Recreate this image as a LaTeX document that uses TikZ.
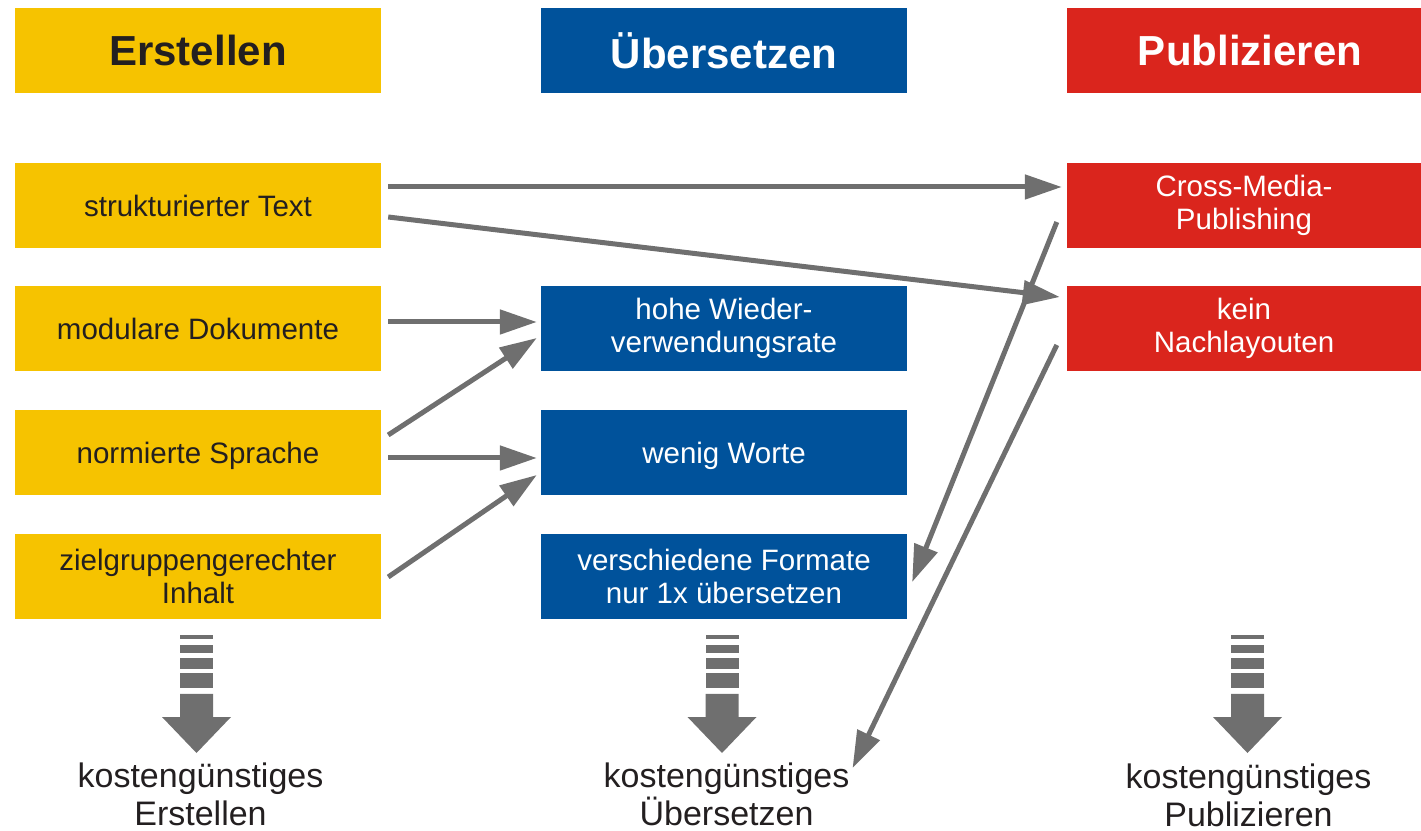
\documentclass[tikz,border=0pt]{standalone}
\usepackage{fontspec}
\setmainfont{Liberation Sans}
\usetikzlibrary{arrows.meta}
\definecolor{gelb}{RGB}{246,195,0}
\definecolor{blau}{RGB}{0,82,155}
\definecolor{rot}{RGB}{218,37,29}
\definecolor{grau}{RGB}{111,111,111}
\definecolor{schwarz}{RGB}{35,31,32}
\begin{document}
\begin{tikzpicture}[x=1pt,y=1pt,
  box/.style={minimum width=366pt,minimum height=85pt,inner sep=0pt,align=center,
    font=\fontsize{29.5}{33}\selectfont},
  einzeln/.style={text height=22pt,text depth=0pt},
  ybox/.style={box,fill=gelb,text=schwarz},
  bbox/.style={box,fill=blau,text=white},
  rbox/.style={box,fill=rot,text=white},
  head/.style={font=\fontsize{42}{46}\selectfont\bfseries},
  ergebnis/.style={align=center,inner sep=0pt,text=schwarz,font=\fontsize{34}{38}\selectfont},
  pfeil/.style={draw=grau,line width=5pt,-{Triangle[length=37pt,width=24pt]}}]
\useasboundingbox (0,0) rectangle (1421,830);

% Spaltenkoepfe
\node[ybox,head] (te) at (198,779.5) {Erstellen};
\node[bbox,head] (tu) at (724,779.5) {Übersetzen};
\node[rbox,head] (tp) at (1250,779.5) {Publizieren};

% Erstellen
\node[ybox,einzeln] (e1) at (198,624.5) {strukturierter Text};
\node[ybox,einzeln] (e2) at (198,501.5) {modulare Dokumente};
\node[ybox,einzeln] (e3) at (198,377.5) {normierte Sprache};
\node[ybox] (e4) at (198,253.5) {zielgruppengerechter\\Inhalt};

% Uebersetzen
\node[bbox] (u1) at (724,501.5) {hohe Wieder-\\verwendungsrate};
\node[bbox,einzeln] (u2) at (724,377.5) {wenig Worte};
\node[bbox] (u3) at (724,253.5) {verschiedene Formate\\nur 1x übersetzen};

% Publizieren
\node[rbox,minimum width=354pt] (p1) at (1244,624.5) {Cross-Media-\\Publishing};
\node[rbox,minimum width=354pt] (p2) at (1244,501.5) {kein\\Nachlayouten};

% Ergebnisse
\node[ergebnis] (r1) at (200.5,36) {kostengünstiges\\Erstellen};
\node[ergebnis] (r2) at (726.5,36) {kostengünstiges\\Übersetzen};
\node[ergebnis] (r3) at (1248.5,35) {kostengünstiges\\Publizieren};

% Pfeile
\draw[pfeil] ([shift={(7,18.5)}]e1.east) -- ([shift={(-5,18.5)}]p1.west);
\draw[pfeil] ([shift={(7,-11.5)}]e1.east) -- ([shift={(-7,31.5)}]p2.west);
\draw[pfeil] ([shift={(7,6.5)}]e2.east) -- ([shift={(-4,6.5)}]u1.west);
\draw[pfeil] ([shift={(7,17.5)}]e3.east) -- ([shift={(-4,-9.5)}]u1.west);
\draw[pfeil] ([shift={(7,-5.5)}]e3.east) -- ([shift={(-4,-5.5)}]u2.west);
\draw[pfeil] ([shift={(7,-0.5)}]e4.east) -- ([shift={(-4,-22.5)}]u2.west);
\draw[pfeil] ([shift={(-10,-16.5)}]p1.west) -- ([shift={(5,-5.5)}]u3.east);
\draw[pfeil] ([shift={(-10,-16.5)}]p2.west) -- ([shift={(3,26)}]r2.east);

% gestreifte Pfeile
\foreach \x in {196.5,722,1247.5} {
  \foreach \a/\b in {195/191,185/177,172/161,157/142}
    \fill[grau] (\x-16.5,\a) rectangle (\x+16.5,\b);
  \fill[grau] (\x-16.5,136) -- (\x+16.5,136) -- (\x+16.5,113) -- (\x+34.5,113)
    -- (\x,77) -- (\x-34.5,113) -- (\x-16.5,113) -- cycle;
}
\end{tikzpicture}
\end{document}
